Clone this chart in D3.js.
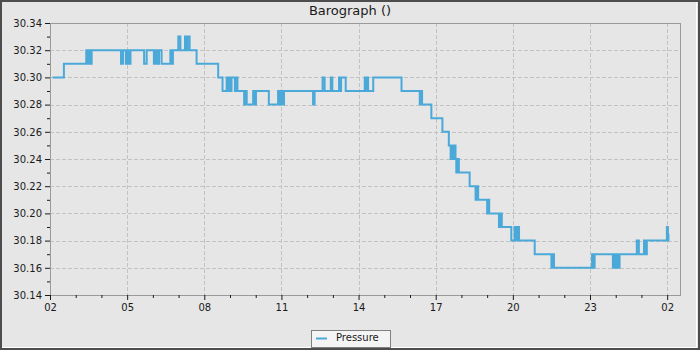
<!DOCTYPE html>
<html>
<head>
<meta charset="utf-8">
<script src="https://cdn.jsdelivr.net/npm/d3@7/dist/d3.min.js"></script>
<style>
  body { margin: 0; background: #e6e6e6; }
  svg { display: block; font-family: "DejaVu Sans", sans-serif; }
</style>
</head>
<body>
<div id="chart"></div>
<script>
// time in days since the first tick (02), pressure in inHg
const days = [
  0.10, 0.54,
  1.41, 1.46, 1.51, 1.56, 1.62,
  2.76, 2.84,
  2.95, 3.01, 3.07, 3.13,
  3.66, 3.76,
  4.04, 4.10, 4.16, 4.24, 4.34,
  4.68, 4.73, 4.78,
  4.99, 5.07,
  5.25, 5.31, 5.35, 5.43,
  5.70, 6.54, 6.71,
  6.87, 6.92, 6.97, 7.02, 7.06,
  7.19, 7.24, 7.29,
  7.55, 7.60, 7.65,
  7.90, 7.95, 8.01,
  8.51,
  8.87, 8.92, 8.97, 9.03, 9.10,
  10.23, 10.29,
  10.60, 10.68,
  10.92, 10.98,
  11.24, 11.28, 11.32, 11.50,
  12.24, 12.28, 12.32, 12.37,
  12.57, 13.67,
  14.38, 14.42, 14.47,
  14.83, 15.26, 15.51,
  15.58, 15.62, 15.67, 15.72, 15.77,
  15.80, 15.85, 15.90,
  16.32,
  16.55, 16.60, 16.65,
  17.00, 17.04, 17.08,
  17.46, 17.51, 17.57,
  17.94,
  18.07, 18.12, 18.17, 18.24,
  18.85,
  19.50, 19.55, 19.60,
  21.08, 21.13, 21.18,
  21.89, 21.94, 21.99, 22.05, 22.10, 22.15,
  22.82, 22.90,
  23.10, 23.15, 23.21,
  23.99, 24.03, 24.05
];
const pressure = [
  30.30, 30.31,
  30.32, 30.31, 30.32, 30.31, 30.32,
  30.31, 30.32,
  30.31, 30.32, 30.31, 30.32,
  30.31, 30.32,
  30.31, 30.32, 30.31, 30.32, 30.31,
  30.32, 30.31, 30.32,
  30.33, 30.32,
  30.33, 30.32, 30.33, 30.32,
  30.31, 30.30, 30.29,
  30.30, 30.29, 30.30, 30.29, 30.30,
  30.29, 30.30, 30.29,
  30.28, 30.29, 30.28,
  30.29, 30.28, 30.29,
  30.28,
  30.29, 30.28, 30.29, 30.28, 30.29,
  30.28, 30.29,
  30.30, 30.29,
  30.30, 30.29,
  30.30, 30.29, 30.30, 30.29,
  30.30, 30.29, 30.30, 30.29,
  30.30, 30.29,
  30.28, 30.29, 30.28,
  30.27, 30.26, 30.25,
  30.24, 30.25, 30.24, 30.25, 30.24,
  30.23, 30.24, 30.23,
  30.22,
  30.21, 30.22, 30.21,
  30.20, 30.21, 30.20,
  30.19, 30.20, 30.19,
  30.18,
  30.19, 30.18, 30.19, 30.18,
  30.17,
  30.16, 30.17, 30.16,
  30.17, 30.16, 30.17,
  30.16, 30.17, 30.16, 30.17, 30.16, 30.17,
  30.18, 30.17,
  30.18, 30.17, 30.18,
  30.19, 30.18, 30.185
];
const xTickDays = [0, 3, 6, 9, 12, 15, 18, 21, 24];
const xTickLabels = ["02", "05", "08", "11", "14", "17", "20", "23", "02"];
const yTicks = [30.14, 30.16, 30.18, 30.20, 30.22, 30.24, 30.26, 30.28, 30.30, 30.32, 30.34];

const width = 700, height = 350;
const margin = { top: 23, right: 20, bottom: 55, left: 50 };
const plotW = width - margin.left - margin.right;   // 630
const plotH = height - margin.top - margin.bottom;  // 272

const svg = d3.select("#chart").append("svg")
  .attr("width", width)
  .attr("height", height);

// window frame
svg.append("rect")
  .attr("x", 1).attr("y", 1)
  .attr("width", width - 2).attr("height", height - 2)
  .attr("fill", "#e6e6e6")
  .attr("stroke", "#4d4d4d")
  .attr("stroke-width", 2);
svg.append("path")
  .attr("d", "M696.5,2V347.5H2")
  .attr("fill", "none")
  .attr("stroke", "#ffffff")
  .attr("stroke-width", 1);

// title
svg.append("text")
  .attr("x", 350)
  .attr("y", 15)
  .attr("text-anchor", "middle")
  .attr("font-size", 13)
  .attr("fill", "#1a1a1a")
  .text("Barograph ()");

const x = d3.scaleLinear()
  .domain([0, 24.5])
  .range([margin.left, margin.left + plotW]);

const y = d3.scaleLinear()
  .domain([30.14, 30.34])
  .range([margin.top + plotH, margin.top]);

// grid
const grid = svg.append("g")
  .attr("stroke", "#c2c2c2")
  .attr("stroke-width", 1)
  .attr("stroke-dasharray", "4,2")
  .attr("shape-rendering", "crispEdges");

grid.selectAll(".vgrid")
  .data(xTickDays.slice(1))
  .join("line")
  .attr("x1", d => Math.round(x(d)) + 0.5)
  .attr("x2", d => Math.round(x(d)) + 0.5)
  .attr("y1", margin.top)
  .attr("y2", margin.top + plotH);

grid.selectAll(".hgrid")
  .data(yTicks.slice(1, -1))
  .join("line")
  .attr("x1", margin.left)
  .attr("x2", margin.left + plotW - 2)
  .attr("y1", d => Math.round(y(d)) + 0.5)
  .attr("y2", d => Math.round(y(d)) + 0.5);

// plot border
svg.append("rect")
  .attr("x", margin.left + 0.5)
  .attr("y", margin.top + 0.5)
  .attr("width", plotW)
  .attr("height", plotH)
  .attr("fill", "none")
  .attr("stroke", "#9a9a9a")
  .attr("stroke-width", 1);

// axes
const yAxis = d3.axisLeft(y)
  .tickValues(yTicks)
  .tickSize(5)
  .tickPadding(3)
  .tickFormat(d3.format(".2f"));

const yMinor = d3.axisLeft(y)
  .tickValues(d3.range(15, 34, 2).map(v => 30 + v / 100))
  .tickSize(3)
  .tickFormat("");

const xAxis = d3.axisBottom(x)
  .tickValues(xTickDays)
  .tickSize(5)
  .tickPadding(4)
  .tickFormat((d, i) => xTickLabels[i]);

const xMinor = d3.axisBottom(x)
  .tickValues(d3.range(0, 25).filter(d => d % 3 !== 0))
  .tickSize(3)
  .tickFormat("");

function styleAxis(g) {
  g.select(".domain").remove();
  g.selectAll(".tick line").attr("stroke", "#1a1a1a");
  g.selectAll(".tick text")
    .attr("fill", "#1a1a1a")
    .attr("font-size", 10)
    .attr("font-family", "DejaVu Sans, sans-serif");
}

svg.append("g")
  .attr("transform", `translate(${margin.left},0)`)
  .call(yAxis).call(styleAxis);
svg.append("g")
  .attr("transform", `translate(${margin.left},0)`)
  .call(yMinor).call(styleAxis);
svg.append("g")
  .attr("transform", `translate(0,${margin.top + plotH})`)
  .call(xAxis).call(styleAxis);
svg.append("g")
  .attr("transform", `translate(0,${margin.top + plotH})`)
  .call(xMinor).call(styleAxis);

// pressure series, drawn as steps
const points = days.map((d, i) => [d, pressure[i]]);

const line = d3.line()
  .x(d => x(d[0]))
  .y(d => y(d[1]))
  .curve(d3.curveStepAfter);

svg.append("path")
  .datum(points)
  .attr("fill", "none")
  .attr("stroke", "#4ba9da")
  .attr("stroke-width", 2)
  .attr("d", line);

// legend
const legend = svg.append("g");
legend.append("rect")
  .attr("x", 311.5).attr("y", 330.5)
  .attr("width", 79).attr("height", 17)
  .attr("fill", "#f4f4f4")
  .attr("stroke", "#808080");
legend.append("line")
  .attr("x1", 316).attr("x2", 327)
  .attr("y1", 338.5).attr("y2", 338.5)
  .attr("stroke", "#4ba9da")
  .attr("stroke-width", 2);
legend.append("text")
  .attr("x", 336).attr("y", 341)
  .attr("font-size", 10)
  .attr("fill", "#1a1a1a")
  .text("Pressure");
</script>
</body>
</html>
